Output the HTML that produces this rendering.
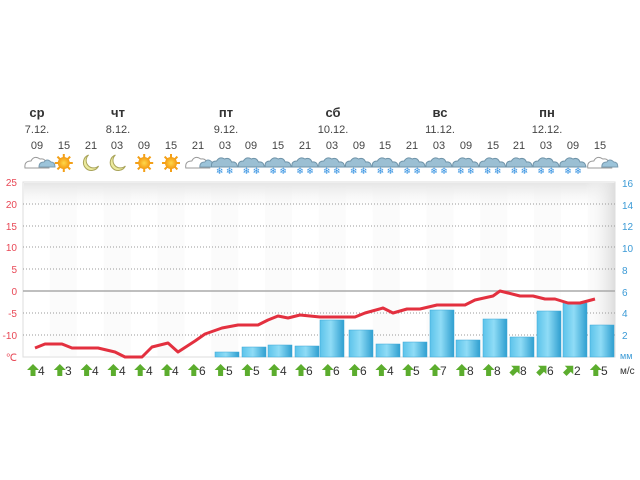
<!DOCTYPE html>
<html><head><meta charset="utf-8"><style>
body{margin:0;background:#fff;width:640px;height:480px;overflow:hidden}
svg{display:block;font-family:"Liberation Sans",sans-serif}
</style></head><body>
<svg id="s" width="640" height="480" viewBox="0 0 640 480">
<defs>
<linearGradient id="bar" x1="0" x2="1"><stop offset="0" stop-color="#5cc3ea"/><stop offset="0.45" stop-color="#8fdcf6"/><stop offset="1" stop-color="#2f9fd0"/></linearGradient>
<linearGradient id="rt" x1="0" x2="1"><stop offset="0" stop-color="#fff" stop-opacity="0"/><stop offset="1" stop-color="#ddd"/></linearGradient>
<linearGradient id="tp" x1="0" y1="0" x2="0" y2="1"><stop offset="0" stop-color="#e6e6e6"/><stop offset="1" stop-color="#fff" stop-opacity="0"/></linearGradient>
<radialGradient id="sun"><stop offset="0" stop-color="#ffd84a"/><stop offset="1" stop-color="#f49a12"/></radialGradient>
</defs>
<g id="bg"></g>
<rect x="23" y="182" width="592" height="175" fill="none" stroke="#ddd"/>
<g stroke="#999" stroke-dasharray="1,2" stroke-width="1">
<line x1="23" y1="204" x2="615" y2="204"/><line x1="23" y1="226" x2="615" y2="226"/><line x1="23" y1="247" x2="615" y2="247"/><line x1="23" y1="269" x2="615" y2="269"/><line x1="23" y1="313" x2="615" y2="313"/><line x1="23" y1="335" x2="615" y2="335"/>
</g>
<line x1="23" y1="291" x2="615" y2="291" stroke="#aaa" stroke-width="1.5"/>
<g id="bars"></g>
<polyline fill="none" stroke="#e3303f" stroke-width="3" stroke-linejoin="round" points="35,348 45,344 62,344 72,348 98,348 115,352 125,357 142,357 152,347 168,343 178,352 195,341 205,334 222,328 238,325 258,325 268,320 278,316 288,318 300,315 320,317 355,317 365,313 383,308 393,313 407,309 420,309 437,305 465,305 475,300 493,296 500,291 508,293 520,296 533,296 545,299 555,299 568,303 580,303 595,299"/>
<g fill="#e84755" font-size="10" text-anchor="end">
<text x="17" y="186">25</text><text x="17" y="208">20</text><text x="17" y="230">15</text><text x="17" y="251">10</text><text x="17" y="273">5</text><text x="17" y="295">0</text><text x="17" y="317">-5</text><text x="17" y="339">-10</text><text x="17" y="361">℃</text>
</g>
<g fill="#3b9ad6" font-size="10">
<text x="622" y="187">16</text><text x="622" y="209">14</text><text x="622" y="230">12</text><text x="622" y="252">10</text><text x="622" y="274">8</text><text x="622" y="296">6</text><text x="622" y="317">4</text><text x="622" y="339">2</text><text x="620" y="359" font-size="9">мм</text>
</g>
<g font-size="13" font-weight="bold" fill="#333" text-anchor="middle">
<text x="37" y="117">ср</text><text x="118" y="117">чт</text><text x="226" y="117">пт</text><text x="333" y="117">сб</text><text x="440" y="117">вс</text><text x="547" y="117">пн</text>
</g>
<g font-size="11" fill="#444" text-anchor="middle">
<text x="37" y="133">7.12.</text><text x="118" y="133">8.12.</text><text x="226" y="133">9.12.</text><text x="333" y="133">10.12.</text><text x="440" y="133">11.12.</text><text x="547" y="133">12.12.</text>
</g>
<g font-size="11" fill="#444" text-anchor="middle">
<text x="37" y="149">09</text><text x="64" y="149">15</text><text x="91" y="149">21</text><text x="117" y="149">03</text><text x="144" y="149">09</text><text x="171" y="149">15</text><text x="198" y="149">21</text><text x="225" y="149">03</text><text x="251" y="149">09</text><text x="278" y="149">15</text><text x="305" y="149">21</text><text x="332" y="149">03</text><text x="359" y="149">09</text><text x="385" y="149">15</text><text x="412" y="149">21</text><text x="439" y="149">03</text><text x="466" y="149">09</text><text x="493" y="149">15</text><text x="519" y="149">21</text><text x="546" y="149">03</text><text x="573" y="149">09</text><text x="600" y="149">15</text>
</g>
<g id="icons"></g>
<g id="wind"></g>
<g font-size="12" fill="#333">
<text x="38" y="375">4</text><text x="65" y="375">3</text><text x="92" y="375">4</text><text x="119" y="375">4</text><text x="146" y="375">4</text><text x="172" y="375">4</text><text x="199" y="375">6</text><text x="226" y="375">5</text><text x="253" y="375">5</text><text x="280" y="375">4</text><text x="306" y="375">6</text><text x="333" y="375">6</text><text x="360" y="375">6</text><text x="387" y="375">4</text><text x="413" y="375">5</text><text x="440" y="375">7</text><text x="467" y="375">8</text><text x="494" y="375">8</text><text x="520" y="375">8</text><text x="547" y="375">6</text><text x="574" y="375">2</text><text x="601" y="375">5</text>
<text x="620" y="374" font-size="10">м/с</text>
</g>
</svg>
<script>
var N="http://www.w3.org/2000/svg";
function el(p,t,a){var e=document.createElementNS(N,t);for(var k in a)e.setAttribute(k,a[k]);document.getElementById(p).appendChild(e);return e;}
for(var i=0;i<22;i++){var x=23+i*26.9;if(i%2==1)el("bg","rect",{x:x,y:183,width:26.9,height:173,fill:"#fbfbfb"});}
el("bg","rect",{x:24,y:183,width:590,height:30,fill:"url(#tp)"});
el("bg","rect",{x:585,y:183,width:30,height:173,fill:"url(#rt)"});
var bars=[[215,352],[242,347],[268,345],[295,346],[320,320],[349,330],[376,344],[403,342],[430,310],[456,340],[483,319],[510,337],[537,311],[563,303],[590,325]];
bars.forEach(function(b){el("bars","rect",{x:b[0],y:b[1],width:24,height:357-b[1],fill:"url(#bar)",stroke:"#3aa6d6","stroke-width":0.5});});
function cx(i){return 37+26.8*i;}
var ic=["c","s","m","m","s","s","c"];for(var i=7;i<21;i++)ic.push("n");ic.push("c");
ic.forEach(function(t,i){var x=cx(i),y=163;
 if(t=="s"){for(var a=0;a<8;a++){var r=a*Math.PI/4;el("icons","line",{x1:x+5*Math.cos(r),y1:y+5*Math.sin(r),x2:x+9*Math.cos(r),y2:y+9*Math.sin(r),stroke:"#f3a018","stroke-width":2});}
  el("icons","circle",{cx:x,cy:y,r:6,fill:"url(#sun)"});}
 else if(t=="m"){el("icons","path",{d:"M"+(x-2)+" "+(y-8)+" A8 8 0 1 0 "+(x+8)+" "+(y+3)+" A7 7 0 0 1 "+(x-2)+" "+(y-8)+"Z",fill:"#ecea9c",stroke:"#a9a45a","stroke-width":1});}
 else if(t=="c"){el("icons","path",{d:"M"+(x-12)+" "+(y+5)+" q-1 -7 6 -7 q3 -6 9 -2 q5 -1 6 4 q4 1 3 5 z",fill:"#fff",stroke:"#999"});
  el("icons","path",{d:"M"+(x+2)+" "+(y+4)+" q0 -5 5 -5 q3 -4 7 0 q4 0 4 5 z",fill:"#9cc4da",stroke:"#7a9bb0"});}
 else {el("icons","path",{d:"M"+(x-13)+" "+(y+4)+" q-1 -6 5 -6 q3 -5 8 -2 q5 -2 7 3 q5 -1 6 5 z",fill:"#9bbfd3",stroke:"#6f93a8"});
  el("icons","text",{x:x-5,y:y+11,"font-size":9,fill:"#2c8de0","text-anchor":"middle"}).textContent="❄";
  el("icons","text",{x:x+5,y:y+11,"font-size":9,fill:"#2c8de0","text-anchor":"middle"}).textContent="❄";}
});
for(var i=0;i<22;i++){var x=cx(i)-4,y=370;var g=el("wind","g",{transform:"translate("+x+","+y+")"+((i>=18&&i<=20)?" rotate(45)":"")});
 var p=document.createElementNS(N,"path");p.setAttribute("d","M0 -6 L6 0 L2.5 0 L2.5 6 L-2.5 6 L-2.5 0 L-6 0 Z");p.setAttribute("fill","#5cad2e");g.appendChild(p);}
</script>
</body></html>
